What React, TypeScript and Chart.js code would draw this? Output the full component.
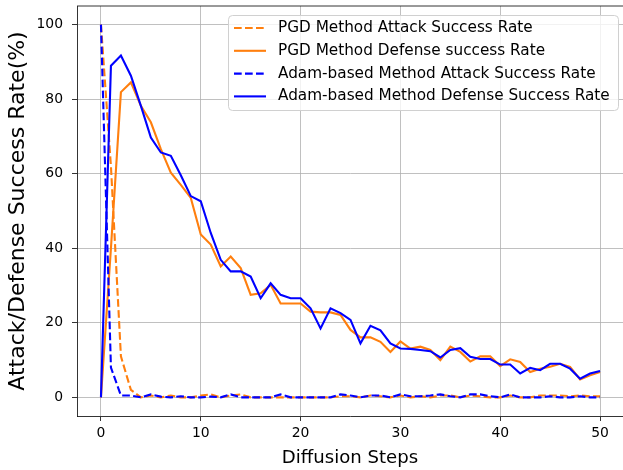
import React, { useEffect, useRef } from "react";
import { Chart, registerables } from "chart.js";

Chart.register(...registerables);

const steps = [0, 1, 2, 3, 4, 5, 6, 7, 8, 9, 10, 11, 12, 13, 14, 15, 16, 17, 18, 19, 20, 21, 22, 23, 24, 25, 26, 27, 28, 29, 30, 31, 32, 33, 34, 35, 36, 37, 38, 39, 40, 41, 42, 43, 44, 45, 46, 47, 48, 49, 50];

const pgdAttack = [100, 62, 11, 2, 0, 0.5, 0, 0.5, 0, 0, 0.5, 0.8, 0, 0.5, 0.8, 0, 0, 0, 0, 0, 0, 0, 0, 0, 0.3, 0.3, 0, 0.5, 0.3, 0, 0.5, 0, 0.3, 0, 0.5, 0.5, 0, 0.5, 0.3, 0, 0, 0.5, 0, 0, 0.5, 0.5, 0.5, 0.3, 0.5, 0.3, 0.3];
const pgdDefense = [0, 40, 81.9, 84.5, 78.2, 73.8, 66.6, 60.3, 57, 53.5, 43.7, 41, 35.1, 37.8, 34.7, 27.5, 27.9, 30.2, 25.2, 25.2, 25.2, 23, 22.8, 22.8, 22.1, 18.1, 16.1, 16.1, 14.9, 12.2, 15, 13.1, 13.6, 12.7, 10, 13.6, 12.2, 9.6, 11, 11, 8.4, 10.2, 9.5, 6.8, 7.7, 8.2, 9, 8.2, 4.8, 5.9, 6.8];
const adamAttack = [100, 8, 0.5, 0.5, 0, 0.8, 0.2, 0, 0.3, 0, 0, 0.2, 0, 0.8, 0, 0, 0, 0, 0.8, 0, 0, 0, 0, 0, 0.8, 0.5, 0, 0.5, 0.5, 0, 0.8, 0.3, 0.3, 0.5, 0.8, 0.3, 0, 0.8, 0.8, 0.3, 0, 0.8, 0, 0, 0, 0.3, 0, 0, 0.3, 0, 0];
const adamDefense = [0, 89, 91.7, 86.3, 78.2, 69.7, 65.7, 64.8, 59.6, 54, 52.6, 44.1, 36.9, 33.8, 33.8, 32.4, 26.6, 30.6, 27.5, 26.6, 26.6, 23.9, 18.5, 23.9, 22.6, 20.8, 14.5, 19.2, 18, 14.5, 13.1, 13, 12.7, 12.4, 10.7, 12.7, 13.2, 10.9, 10.3, 10.3, 8.8, 8.8, 6.4, 7.9, 7.3, 9, 9, 7.7, 5, 6.4, 7.1];

const xTicks = [0, 10, 20, 30, 40, 50];
const yTicks = [0, 20, 40, 60, 80, 100];

const seriesLabels = [
  "PGD Method Attack Success Rate",
  "PGD Method Defense success Rate",
  "Adam-based Method Attack Success Rate",
  "Adam-based Method Defense Success Rate",
];

const ORANGE = "#ff7f0e";
const BLUE = "#0000ff";
const DASH = [7.7, 3.3];
const FONT = "'DejaVu Sans', sans-serif";

const toPoints = (vals: number[]) => steps.map((s, i) => ({ x: s, y: vals[i] }));

const framePlugin = {
  id: "frame",
  afterDraw(chart: any) {
    const { ctx, chartArea } = chart;
    ctx.save();
    ctx.strokeStyle = "#000";
    ctx.lineWidth = 0.8;
    ctx.beginPath();
    ctx.moveTo(chartArea.left, chartArea.top);
    ctx.lineTo(chartArea.right, chartArea.top);
    ctx.stroke();

    // legend
    const bx = 228.5, by = 15.5, bw = 390, bh = 95, r = 4;
    ctx.beginPath();
    ctx.moveTo(bx + r, by);
    ctx.lineTo(bx + bw - r, by);
    ctx.quadraticCurveTo(bx + bw, by, bx + bw, by + r);
    ctx.lineTo(bx + bw, by + bh - r);
    ctx.quadraticCurveTo(bx + bw, by + bh, bx + bw - r, by + bh);
    ctx.lineTo(bx + r, by + bh);
    ctx.quadraticCurveTo(bx, by + bh, bx, by + bh - r);
    ctx.lineTo(bx, by + r);
    ctx.quadraticCurveTo(bx, by, bx + r, by);
    ctx.closePath();
    ctx.fillStyle = "rgba(255,255,255,0.8)";
    ctx.fill();
    ctx.strokeStyle = "#d0d0d0";
    ctx.lineWidth = 1;
    ctx.stroke();

    chart.data.datasets.forEach((ds: any, i: number) => {
      const y = 28 + i * 22.8;
      ctx.beginPath();
      ctx.setLineDash(ds.borderDash || []);
      ctx.strokeStyle = ds.borderColor;
      ctx.lineWidth = ds.borderWidth;
      ctx.moveTo(234, y);
      ctx.lineTo(266, y);
      ctx.stroke();
      ctx.setLineDash([]);
      ctx.fillStyle = "#000";
      ctx.font = `15.28px ${FONT}`;
      ctx.textBaseline = "middle";
      ctx.textAlign = "left";
      ctx.fillText(ds.label, 278, y);
    });
    ctx.restore();
  },
};

export default function App() {
  const ref = useRef<HTMLCanvasElement>(null);
  useEffect(() => {
    if (!ref.current) return;
    const chart = new Chart(ref.current, {
      type: "line",
      data: {
        datasets: [
          { label: seriesLabels[0], data: toPoints(pgdAttack), borderColor: ORANGE, borderDash: DASH, borderWidth: 2.1, order: 4 },
          { label: seriesLabels[1], data: toPoints(pgdDefense), borderColor: ORANGE, borderWidth: 2.1, order: 3 },
          { label: seriesLabels[2], data: toPoints(adamAttack), borderColor: BLUE, borderDash: DASH, borderWidth: 2.1, order: 2 },
          { label: seriesLabels[3], data: toPoints(adamDefense), borderColor: BLUE, borderWidth: 2.1, order: 1 },
        ] as any,
      },
      plugins: [framePlugin],
      options: {
        animation: false,
        responsive: false,
        devicePixelRatio: 1,
        layout: { padding: { top: 6, left: 0, right: -4, bottom: 0 } },
        elements: { point: { radius: 0 }, line: { tension: 0, fill: false } },
        plugins: { legend: { display: false }, tooltip: { enabled: false } },
        scales: {
          x: {
            type: "linear",
            min: -2.4,
            max: 52.3,
            afterBuildTicks: (s: any) => { s.ticks = xTicks.map((v) => ({ value: v })); },
            afterFit: (s: any) => { s.height = 54; s.paddingLeft = 0; s.paddingRight = 0; },
            grid: { color: "#b0b0b0", lineWidth: 0.8, tickColor: "#000", tickLength: 5, tickWidth: 0.8 },
            border: { color: "#000", width: 0.8 },
            ticks: { color: "#000", font: { family: FONT, size: 13.9 }, padding: 4, maxRotation: 0 },
            title: { display: true, text: "Diffusion Steps", color: "#000", font: { family: FONT, size: 18.1 }, padding: { top: 0, bottom: 0.5 } },
          },
          y: {
            type: "linear",
            min: -5,
            max: 105,
            afterBuildTicks: (s: any) => { s.ticks = yTicks.map((v) => ({ value: v })); },
            afterFit: (s: any) => { s.width = 77; s.paddingTop = 0; s.paddingBottom = 0; },
            grid: { color: "#b0b0b0", lineWidth: 0.8, tickColor: "#000", tickLength: 5, tickWidth: 0.8 },
            border: { color: "#000", width: 0.8 },
            ticks: { color: "#000", font: { family: FONT, size: 13.9 }, padding: 9 },
            title: { display: true, text: "Attack/Defense Success Rate(%)", color: "#000", font: { family: FONT, size: 22 }, padding: { top: 5, bottom: 0 } },
          },
        },
      } as any,
    });
    return () => chart.destroy();
  }, []);
  return (
    <div style={{ position: "fixed", left: 0, top: 0, width: 623, height: 470, background: "#fff" }}>
      <canvas ref={ref} width={623} height={470} style={{ width: 623, height: 470 }} />
    </div>
  );
}
